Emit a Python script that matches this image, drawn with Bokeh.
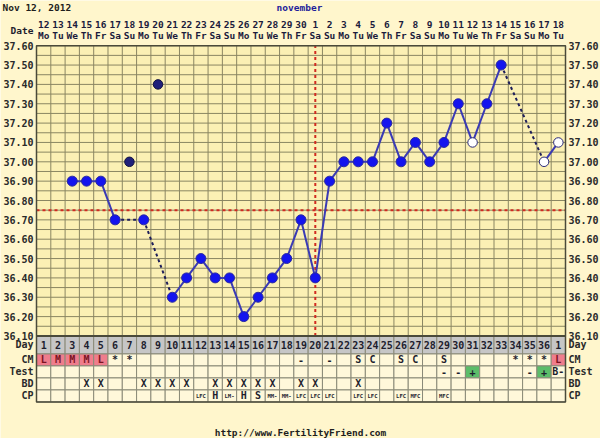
from bokeh.plotting import figure
from bokeh.models import Range1d
from bokeh.embed import file_html
from bokeh.resources import INLINE
from bokeh.core.properties import value

# ---------------- data ----------------
chart_date = "Nov 12, 2012"
month_name = "november"
site_url = "http://www.FertilityFriend.com"
date_title = "Date"

date_labels = ["12", "13", "14", "15", "16", "17", "18", "19", "20", "21", "22", "23", "24", "25",
               "26", "27", "28", "29", "30", "1", "2", "3", "4", "5", "6", "7", "8", "9", "10",
               "11", "12", "13", "14", "15", "16", "17", "18"]
weekday_labels = ["Mo", "Tu", "We", "Th", "Fr", "Sa", "Su", "Mo", "Tu", "We", "Th", "Fr", "Sa", "Su",
                  "Mo", "Tu", "We", "Th", "Fr", "Sa", "Su", "Mo", "Tu", "We", "Th", "Fr", "Sa", "Su",
                  "Mo", "Tu", "We", "Th", "Fr", "Sa", "Su", "Mo", "Tu"]
cycle_day_labels = ["1", "2", "3", "4", "5", "6", "7", "8", "9", "10", "11", "12", "13", "14", "15",
                    "16", "17", "18", "19", "20", "21", "22", "23", "24", "25", "26", "27", "28",
                    "29", "30", "31", "32", "33", "34", "35", "36", "1"]

temps = [None, None, 36.90, 36.90, 36.90, 36.70, 37.00, 36.70, 37.40, 36.30, 36.40, 36.50,
         36.40, 36.40, 36.20, 36.30, 36.40, 36.50, 36.70, 36.40, 36.90, 37.00, 37.00, 37.00,
         37.20, 37.00, 37.10, 37.00, 37.10, 37.30, 37.10, 37.30, 37.50, None, None, 37.00, 37.10]
discarded_days = [7, 9]
open_days = [31, 36, 37]
coverline = 36.75
ovulation_day = 20

temp_ticks = [36.10, 36.20, 36.30, 36.40, 36.50, 36.60, 36.70, 36.80, 36.90, 37.00,
              37.10, 37.20, 37.30, 37.40, 37.50, 37.60]
temp_tick_labels = ["36.10", "36.20", "36.30", "36.40", "36.50", "36.60", "36.70", "36.80",
                    "36.90", "37.00", "37.10", "37.20", "37.30", "37.40", "37.50", "37.60"]

row_names = ["Day", "CM", "Test", "BD", "CP"]
cm_row = ["L", "M", "M", "M", "L", "*", "*", "", "", "", "", "", "", "", "", "", "", "", "-", "",
          "-", "", "S", "C", "", "S", "C", "", "S", "", "", "", "", "*", "*", "*", "L"]
test_row = ["", "", "", "", "", "", "", "", "", "", "", "", "", "", "", "", "", "", "", "", "",
            "", "", "", "", "", "", "", "-", "-", "+", "", "", "", "-", "+", "B-"]
bd_row = ["", "", "", "X", "X", "", "", "X", "X", "X", "X", "", "X", "X", "X", "X", "X", "", "X",
          "X", "", "", "X", "", "", "", "", "", "", "", "", "", "", "", "", "", ""]
cp_row = ["", "", "", "", "", "", "", "", "", "", "", "LFC", "H", "LM-", "H", "S", "MM-", "MM-",
          "LFC", "LFC", "LFC", "", "LFC", "LFC", "", "LFC", "MFC", "", "MFC", "", "", "", "", "",
          "", "", ""]

# ---------------- layout constants (pixels of the canvas) ----------------
W, H = 600, 438
CL, CR, CT = 36, 565, 45.2            # chart frame left / right / top (top = max temp)
PX_PER_DEG = 193.5                    # vertical pixels per degree
row_px = [18, 12, 12, 12, 12]

n = len(date_labels)
days = list(range(1, n + 1))
ytop = max(temp_ticks)
ymin = min(temp_ticks)
px_per_day = (CR - CL) / n


def xd(px):
    return 0.5 + (px - CL) / px_per_day


def yd(py):
    return ytop - (py - CT) / PX_PER_DEG


row_top, row_bot = [], []
yy = ymin
for h in row_px:
    row_top.append(yy)
    yy -= h / PX_PER_DEG
    row_bot.append(yy)
ybot = yy
row_mid = [(a + b) / 2 for a, b in zip(row_top, row_bot)]

FONT = "DejaVu Sans Mono"
BG = "#FFF6CC"
PLOT_BG = "#FBF0B4"
CELL_BG = "#FFF8DA"
GRID = "#8A8662"
TXT = "#1e1e2e"
LBL = "#2a2a2a"

p = figure(width=W, height=H, x_range=Range1d(xd(0), xd(W)), y_range=Range1d(yd(H), yd(0)),
           output_backend="svg", toolbar_location=None, x_axis_type=None, y_axis_type=None,
           min_border_left=0, min_border_right=0, min_border_top=0, min_border_bottom=0)
p.background_fill_color = BG
p.border_fill_color = BG
p.outline_line_color = None
p.title.visible = False

x_lo, x_hi = 0.5, n + 0.5
txt_kw = dict(text_font=value(FONT), text_font_style="bold", text_baseline="middle")

# chart background and grid
p.quad(left=[x_lo], right=[x_hi], top=[ytop], bottom=[ymin], fill_color=PLOT_BG, line_color=None)
vb = [d - 0.5 for d in days] + [x_hi]
p.segment(x0=vb, y0=[ymin] * len(vb), x1=vb, y1=[ytop] * len(vb), line_color=GRID, line_width=1)
half_steps = [round(ymin + 0.05 * i, 2) for i in range(int(round((ytop - ymin) / 0.05)) + 1)]
p.segment(x0=[x_lo] * len(half_steps), y0=half_steps, x1=[x_hi] * len(half_steps), y1=half_steps,
          line_color=GRID, line_width=1)

# table cells
rows_content = [cycle_day_labels, cm_row, test_row, bd_row, cp_row]
qx_l, qx_r, qy_t, qy_b, qfill = [], [], [], [], []
for r, content in enumerate(rows_content):
    for d, c in zip(days, content):
        qx_l.append(d - 0.5)
        qx_r.append(d + 0.5)
        qy_t.append(row_top[r])
        qy_b.append(row_bot[r])
        if r == 0:
            f = "#C6C6C6"
        elif r == 1 and c in ("L", "M"):
            f = "#EF7D8C"
        elif r == 2 and c == "+":
            f = "#5CBD6A"
        else:
            f = CELL_BG
        qfill.append(f)
p.quad(left=qx_l, right=qx_r, top=qy_t, bottom=qy_b, fill_color=qfill,
       line_color="#8A8A78", line_width=1)

# table text
tx, ty, tt, tc, ts = [], [], [], [], []
for r, content in enumerate(rows_content):
    for d, c in zip(days, content):
        if not c:
            continue
        tx.append(d)
        ty.append(row_mid[r])
        tt.append(c)
        tc.append("#7a1424" if (r == 1 and c in ("L", "M")) else TXT)
        ts.append("5.5px" if len(c) == 3 else "10px")
p.text(x=tx, y=ty, text=tt, text_color=tc, text_font_size=ts, text_align="center", **txt_kw)

# coverline and ovulation line
p.segment(x0=[x_lo], y0=[coverline], x1=[x_hi], y1=[coverline],
          line_color="#D02A20", line_width=2, line_dash="3 3")
p.segment(x0=[ovulation_day], y0=[ymin], x1=[ovulation_day], y1=[ytop],
          line_color="#D02A20", line_width=2, line_dash="3 3")

# frame border and chart/table separator
p.segment(x0=[x_lo], y0=[ymin], x1=[x_hi], y1=[ymin], line_color="#4a4a3a", line_width=2)
p.quad(left=[x_lo], right=[x_hi], top=[ytop], bottom=[ybot], fill_color=None,
       line_color="#4a4a3a", line_width=1.5)

# temperature lines
valid = [(d, t) for d, t in zip(days, temps) if t is not None and d not in discarded_days]
sx0, sy0, sx1, sy1, dx0, dy0, dx1, dy1 = [], [], [], [], [], [], [], []
for (da, ta), (db, tb) in zip(valid[:-1], valid[1:]):
    if db - da == 1:
        sx0.append(da); sy0.append(ta); sx1.append(db); sy1.append(tb)
    else:
        dx0.append(da); dy0.append(ta); dx1.append(db); dy1.append(tb)
p.segment(x0=dx0, y0=dy0, x1=dx1, y1=dy1, line_color="#1e1e5a", line_width=2, line_dash="3 3")
p.segment(x0=sx0, y0=sy0, x1=sx1, y1=sy1, line_color="#3a3ab4", line_width=2)

# points
nx = [d for d, t in valid if d not in open_days]
ny = [t for d, t in valid if d not in open_days]
ox = [d for d, t in valid if d in open_days]
oy = [t for d, t in valid if d in open_days]
disc_x = [d for d, t in zip(days, temps) if d in discarded_days and t is not None]
disc_y = [t for d, t in zip(days, temps) if d in discarded_days and t is not None]
p.scatter(x=nx, y=ny, size=10, marker="circle", fill_color="#1414EE", line_color="#2a2aa0", line_width=1)
p.scatter(x=ox, y=oy, size=9.5, marker="circle", fill_color="white", line_color="#2a2a7a", line_width=1)
p.scatter(x=disc_x, y=disc_y, size=9.5, marker="circle", fill_color="#20207a", line_color="#101040", line_width=1)

# axis labels (left and right): temperatures and table row names
ax_y = temp_ticks + row_mid
ax_t = temp_tick_labels + row_names
p.text(x=[x_lo] * len(ax_y), y=ax_y, text=ax_t, x_offset=-3, text_align="right",
       text_color=LBL, text_font_size="10px", **txt_kw)
p.text(x=[x_hi] * len(ax_y), y=ax_y, text=ax_t, x_offset=3, text_align="left",
       text_color=LBL, text_font_size="10px", **txt_kw)

# header: date numbers and weekdays above each column
p.text(x=days, y=[yd(24.0)] * n, text=date_labels, text_align="center", text_color="#1c1c3c",
       text_font_size="9.5px", **txt_kw)
p.text(x=days, y=[yd(35.3)] * n, text=weekday_labels, text_align="center", text_color="#1c1c3c",
       text_font_size="9.5px", **txt_kw)
p.text(x=[xd(33)], y=[yd(29.8)], text=[date_title], text_align="right", text_color=TXT,
       text_font_size="9.5px", **txt_kw)
p.text(x=[xd(2)], y=[yd(7.3)], text=[chart_date], text_align="left", text_color="#1e1e1e",
       text_font_size="9.5px", **txt_kw)
p.text(x=[xd(299)], y=[yd(7.3)], text=[month_name], text_align="center", text_color="#1e1e9a",
       text_font_size="9.5px", **txt_kw)
p.text(x=[xd(300)], y=[yd(432)], text=[site_url], text_align="center", text_color="#1e1e1e",
       text_font_size="9.5px", **txt_kw)

open("out.html", "w").write(file_html(p, INLINE))
